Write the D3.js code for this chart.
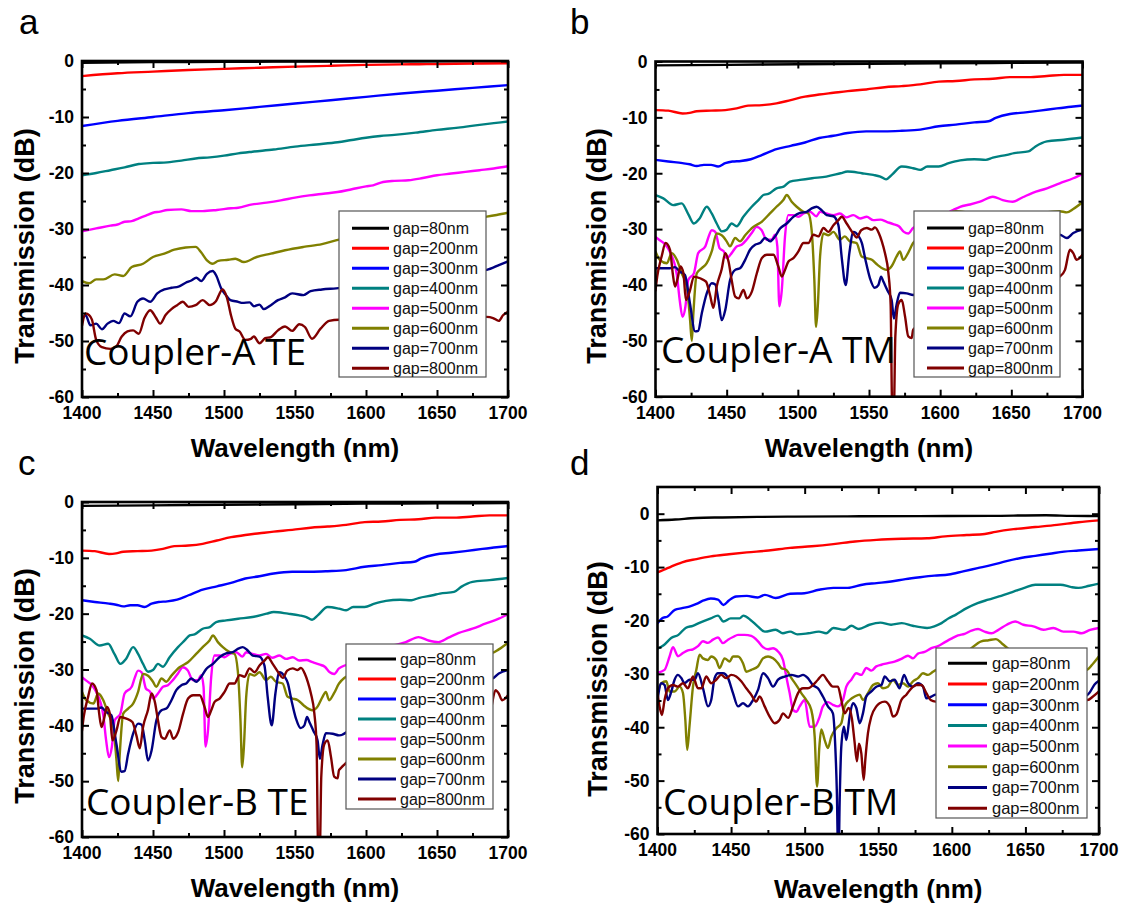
<!DOCTYPE html>
<html>
<head>
<meta charset="utf-8">
<script src="https://cdn.jsdelivr.net/npm/d3@7"></script>
<style>
  body { margin: 0; background: #fff; }
  svg { display: block; }
</style>
</head>
<body>
<svg id="fig" width="1125" height="909"></svg>
<script>
// ---- axis ticks and legend labels ----
const wavelengthMajor = [1400, 1450, 1500, 1550, 1600, 1650, 1700];
const wavelengthMinor = [1425, 1475, 1525, 1575, 1625, 1675];
const dbMajor = [0, -10, -20, -30, -40, -50, -60];
const dbMinor = [-5, -15, -25, -35, -45, -55];
const gapLabels = ["gap=80nm", "gap=200nm", "gap=300nm", "gap=400nm",
                   "gap=500nm", "gap=600nm", "gap=700nm", "gap=800nm"];
const gapColors = ["#000000", "#ff0000", "#0000ff", "#008080",
                   "#ff00ff", "#808000", "#000080", "#800000"];

// ---- Coupler-A TE : [wavelength nm, transmission dB] ----
const aGap80 = [[1400,-0.3],[1450,-0.2],[1500,-0.15],[1550,-0.1],[1600,-0.1],[1650,-0.05],[1700,0]];
const aGap200 = [[1400,-2.7],[1425,-2.2],[1450,-1.9],[1475,-1.6],[1500,-1.4],[1525,-1.2],[1550,-1.0],[1575,-0.85],[1600,-0.7],[1625,-0.6],[1650,-0.55],[1675,-0.45],[1700,-0.4]];
const aGap300 = [[1400,-11.6],[1425,-10.7],[1450,-10.0],[1475,-9.3],[1500,-8.8],[1525,-8.2],[1550,-7.6],[1575,-7.0],[1600,-6.4],[1625,-5.8],[1650,-5.3],[1675,-4.8],[1700,-4.3]];
const aGap400 = [[1400,-20.4],[1410,-20.0],[1420,-19.5],[1430,-19.0],[1440,-18.4],[1450,-18.2],[1460,-18.1],[1470,-17.8],[1480,-17.4],[1490,-17.2],[1500,-16.9],[1510,-16.5],[1520,-16.2],[1535,-15.8],[1550,-15.3],[1565,-14.9],[1580,-14.5],[1590,-14.1],[1600,-13.7],[1610,-13.4],[1620,-13.2],[1635,-12.8],[1650,-12.3],[1665,-11.9],[1680,-11.4],[1690,-11.1],[1700,-10.8]];
const aGap500 = [[1400,-30.4],[1410,-29.9],[1420,-29.4],[1425,-29.2],[1430,-28.7],[1435,-28.6],[1440,-28.1],[1445,-27.6],[1450,-27.1],[1455,-26.9],[1460,-26.6],[1470,-26.5],[1477,-26.8],[1485,-26.8],[1495,-26.6],[1505,-26.3],[1510,-26.2],[1520,-25.6],[1530,-25.3],[1540,-24.9],[1550,-24.4],[1560,-24.0],[1570,-23.7],[1580,-23.4],[1590,-22.9],[1600,-22.4],[1605,-22.2],[1612,-21.6],[1620,-21.4],[1630,-21.3],[1640,-20.9],[1650,-20.4],[1660,-20.1],[1670,-19.8],[1680,-19.5],[1690,-19.2],[1700,-18.8]];
const aGap600 = [[1400,-39.3],[1405,-39.7],[1410,-39.0],[1415,-39.0],[1423,-38.1],[1429,-38.4],[1435,-36.8],[1443,-36.2],[1450,-35.0],[1458,-34.4],[1465,-33.7],[1473,-33.3],[1480,-33.2],[1484,-34.2],[1488,-35.6],[1492,-36.2],[1496,-35.7],[1503,-35.5],[1508,-35.3],[1514,-35.9],[1523,-35.0],[1533,-34.4],[1543,-33.8],[1556,-33.2],[1569,-32.7],[1581,-31.9],[1600,-31.0],[1625,-30.0],[1650,-29.0],[1670,-28.3],[1685,-27.8],[1692,-27.5],[1700,-27.1]];
const aGap700 = [[1400,-46.2],[1402.5,-45.4],[1406,-47.2],[1410,-46.9],[1414,-47.9],[1418,-46.9],[1422,-46.4],[1426,-46.8],[1430,-45.1],[1434,-45.6],[1439,-43.0],[1443,-42.4],[1448,-43.0],[1453,-41.5],[1458,-40.8],[1463,-40.5],[1468,-40.3],[1473,-39.6],[1477,-39.2],[1480.5,-38.7],[1484,-39.3],[1488,-38.0],[1492,-37.5],[1494.5,-38.3],[1498,-40.6],[1501,-41.7],[1504.5,-42.7],[1510,-43.0],[1513,-43.2],[1518,-43.1],[1521,-43.8],[1525,-43.5],[1528,-44.3],[1533,-43.6],[1538,-42.7],[1543,-42.2],[1548,-41.5],[1556,-41.8],[1561,-41.1],[1569,-40.8],[1579,-40.6],[1600,-40.0],[1630,-39.0],[1660,-38.0],[1685,-37.3],[1694,-36.4],[1700,-35.8]];
const aGap800 = [[1400,-47.3],[1402.5,-45.1],[1405,-45.4],[1407,-46.2],[1410,-49.8],[1414,-51.1],[1420,-51.4],[1424,-51.0],[1428,-49.2],[1432,-48.3],[1436,-48.1],[1440,-48.7],[1444,-45.9],[1448,-44.5],[1452,-45.8],[1455,-46.9],[1459,-45.3],[1463,-44.3],[1467,-43.6],[1471,-43.0],[1475,-43.9],[1480,-43.6],[1485,-42.7],[1490,-43.6],[1494,-43.0],[1499,-40.8],[1502,-42.2],[1505,-45.5],[1508,-47.8],[1511,-48.3],[1515,-49.8],[1519,-49.6],[1521,-49.2],[1525,-50.4],[1529,-49.5],[1533,-49.3],[1538,-48.1],[1543,-47.4],[1548,-48.2],[1553,-47.0],[1557,-47.5],[1562,-49.6],[1568,-47.8],[1574,-46.4],[1581,-46.2],[1610,-46.2],[1640,-46.0],[1670,-45.8],[1685,-45.7],[1689.5,-45.9],[1693.5,-46.4],[1696.5,-45.4],[1700,-44.8]];

// ---- Coupler-A TM (also plotted for Coupler-B TE) ----
const bGap80 = [[1400,-0.7],[1450,-0.6],[1500,-0.5],[1550,-0.4],[1600,-0.3],[1650,-0.25],[1700,-0.2]];
const bGap200 = [[1400,-8.7],[1409,-8.8],[1419,-9.3],[1424,-9.2],[1429,-8.9],[1439,-8.8],[1449,-8.7],[1457,-8.4],[1465,-7.9],[1475,-7.8],[1485,-7.5],[1495,-6.9],[1505,-6.3],[1515,-5.9],[1525,-5.6],[1535,-5.3],[1548,-5.0],[1561,-4.6],[1573,-4.4],[1586,-4.1],[1599,-3.6],[1611,-3.5],[1624,-3.2],[1637,-3.1],[1649,-2.8],[1662,-2.8],[1675,-2.6],[1687,-2.4],[1700,-2.4]];
const bGap300 = [[1400,-17.6],[1409,-17.9],[1419,-18.2],[1424,-18.4],[1429,-18.7],[1434,-18.5],[1439,-18.5],[1444,-18.8],[1449,-18.2],[1454,-17.9],[1460,-17.8],[1467,-17.5],[1475,-16.7],[1485,-15.7],[1495,-15.1],[1505,-14.5],[1515,-13.7],[1525,-13.3],[1535,-12.8],[1548,-12.5],[1561,-12.5],[1573,-12.4],[1586,-12.2],[1599,-11.6],[1611,-11.3],[1624,-10.9],[1634,-10.7],[1639,-10.1],[1649,-9.4],[1660,-9.1],[1670,-8.8],[1682,-8.4],[1692,-8.1],[1700,-7.9]];
const bGap400 = [[1400,-23.9],[1405.5,-24.5],[1412.5,-25.7],[1418.4,-25.4],[1423,-27.3],[1427,-29.0],[1431,-28.1],[1436,-26.0],[1439.5,-27.2],[1443,-29.0],[1446.5,-30.4],[1450,-30.1],[1453.5,-29.0],[1457,-29.5],[1461.7,-27.8],[1467.6,-26.0],[1472.3,-24.8],[1475.8,-23.9],[1479.3,-23.7],[1485,-22.7],[1490,-22.4],[1494.5,-21.5],[1501.5,-21.2],[1510,-20.9],[1520,-20.6],[1530,-20.0],[1535,-19.7],[1545,-20.0],[1553,-20.3],[1558,-20.6],[1562,-21.1],[1566,-20.3],[1573,-18.8],[1581,-19.1],[1586,-19.4],[1591,-18.8],[1599,-18.8],[1606,-18.2],[1614,-17.7],[1624,-17.5],[1632,-17.6],[1637,-17.2],[1647,-16.7],[1652,-16.4],[1662,-16.1],[1667,-15.2],[1675,-14.3],[1687,-14.0],[1700,-13.6]];
const bGap500 = [[1400,-31.4],[1403,-32.0],[1407,-32.8],[1410,-34.0],[1415,-38.2],[1417,-42.7],[1419,-45.7],[1421,-43.9],[1423,-39.1],[1427,-37.9],[1430,-34.3],[1435,-33.1],[1437,-31.6],[1439.5,-30.2],[1442,-30.5],[1445,-33.4],[1448,-34.0],[1450,-35.2],[1453.5,-34.3],[1457,-33.1],[1460.5,-32.8],[1464,-31.9],[1467.6,-30.7],[1471,-29.6],[1474.6,-30.2],[1478,-31.9],[1481.6,-31.9],[1484,-31.0],[1485.6,-33.1],[1487,-43.8],[1488.7,-41.0],[1491,-31.3],[1493.3,-27.5],[1497,-27.5],[1500.4,-27.8],[1504,-27.2],[1508.6,-26.9],[1513,-27.7],[1515.6,-26.9],[1520,-27.2],[1525,-27.5],[1529.6,-27.2],[1534,-27.9],[1539,-27.5],[1543.7,-28.1],[1548.4,-27.8],[1553,-28.4],[1558,-28.3],[1562.4,-28.7],[1567,-29.1],[1571,-29.5],[1574.5,-30.5],[1577.6,-30.8],[1581,-29.8],[1595,-28.5],[1609,-26.6],[1614,-26.0],[1621,-25.6],[1628,-25.1],[1637,-24.2],[1644,-24.8],[1651,-25.1],[1658,-24.3],[1665,-23.5],[1675,-22.7],[1684,-21.8],[1693.5,-20.9],[1700,-20.1]];
const bGap600 = [[1400,-34.0],[1403,-35.5],[1408,-36.1],[1411.4,-34.3],[1415,-35.5],[1418.4,-37.9],[1422,-40.3],[1424.3,-46.3],[1425.5,-50.0],[1426.6,-45.1],[1429,-37.9],[1432.5,-37.0],[1436,-36.1],[1439.5,-34.0],[1443,-30.8],[1446.5,-31.1],[1450,-32.2],[1452.3,-33.1],[1456,-31.6],[1459.4,-32.2],[1463,-31.1],[1468.7,-29.6],[1474.6,-28.7],[1480.4,-27.2],[1485,-26.0],[1489.8,-24.8],[1492.2,-23.9],[1495.7,-25.1],[1499.2,-26.0],[1504,-26.9],[1507.4,-27.2],[1509.7,-30.2],[1511.6,-39.1],[1512.8,-47.5],[1514,-43.9],[1515.6,-35.0],[1518,-30.8],[1521.4,-31.1],[1525,-30.5],[1529.6,-31.9],[1533,-31.3],[1536.6,-32.2],[1541.3,-32.5],[1544.8,-34.9],[1548.3,-35.2],[1552,-35.5],[1556,-36.4],[1562.4,-37.3],[1566,-36.6],[1569.4,-34.9],[1571.7,-34.0],[1574,-35.5],[1577.6,-34.2],[1581,-32.5],[1595,-30.0],[1611,-26.8],[1630,-27.5],[1660,-27.5],[1684,-26.8],[1689,-27.0],[1693.5,-26.4],[1700,-25.2]];
const bGap700 = [[1400,-37.0],[1405.5,-37.0],[1410,-37.0],[1413.7,-36.8],[1417,-37.6],[1420.7,-38.2],[1424.2,-43.3],[1427.8,-48.3],[1430,-48.2],[1432.5,-45.1],[1436,-41.5],[1439.5,-39.7],[1442,-39.9],[1444.2,-42.7],[1446.5,-46.3],[1449,-44.5],[1452.4,-39.1],[1456,-37.3],[1459.4,-37.0],[1463,-35.5],[1466.4,-33.7],[1470,-32.8],[1473.4,-32.5],[1477,-31.6],[1480.5,-32.2],[1484,-31.3],[1487.5,-29.9],[1492.2,-29.0],[1496.8,-27.8],[1501.5,-27.1],[1506.2,-26.9],[1509.7,-26.3],[1513.2,-26.0],[1516.7,-26.6],[1520.3,-27.5],[1525,-27.7],[1528.5,-29.3],[1530.8,-35.0],[1533.6,-40.0],[1536.2,-34.3],[1539,-30.5],[1542.5,-31.2],[1545,-32.5],[1547.5,-35.5],[1550.7,-38.8],[1554,-40.5],[1556.6,-40.0],[1558.5,-38.5],[1560.1,-39.4],[1563,-41.0],[1565.9,-42.7],[1567.5,-46.0],[1569.4,-43.5],[1571.8,-41.4],[1576.5,-41.5],[1581,-41.8],[1600,-38.0],[1630,-34.0],[1660,-32.0],[1684,-31.0],[1689,-31.6],[1693.5,-30.7],[1700,-30.1]];
const bGap800 = [[1400,-41.0],[1401.2,-38.5],[1404.3,-34.9],[1407.1,-32.5],[1410.2,-33.7],[1412.1,-37.9],[1413.7,-40.3],[1415.3,-39.1],[1417.6,-36.7],[1419.6,-37.9],[1421.4,-42.7],[1424.2,-41.0],[1427,-38.5],[1431.3,-38.8],[1435.5,-39.4],[1438.3,-41.8],[1440.7,-44.1],[1443,-40.3],[1446.5,-37.2],[1449,-34.3],[1451.3,-35.8],[1453.5,-39.1],[1456,-42.1],[1458.3,-42.4],[1461.8,-40.9],[1464.2,-42.4],[1467.7,-41.2],[1471.2,-37.9],[1474.7,-35.2],[1478.2,-34.6],[1482.9,-34.6],[1486.3,-36.7],[1488.7,-38.5],[1491,-37.3],[1493.4,-35.8],[1496.9,-35.2],[1500.4,-34.0],[1504,-32.5],[1507.4,-32.5],[1511,-31.0],[1514.4,-31.3],[1518,-29.8],[1521.5,-30.5],[1525,-29.3],[1528.5,-28.4],[1530.9,-27.8],[1534.3,-29.0],[1539,-30.8],[1541.3,-31.5],[1544.5,-30.2],[1548.4,-29.8],[1551.9,-30.1],[1554.2,-29.7],[1557,-30.8],[1559,-32.2],[1561.2,-34.3],[1563.6,-37.8],[1565.2,-43.5],[1566.3,-62],[1567.5,-62],[1568.5,-49.2],[1570.6,-43.4],[1573,-42.7],[1575.3,-45.6],[1577.6,-49.2],[1580,-49.5],[1581,-48.0],[1600,-45.0],[1640,-42.0],[1670,-40.0],[1684,-38.5],[1687.7,-37.3],[1691.2,-33.7],[1693.5,-34.3],[1695.9,-35.5],[1700,-34.6]];

// ---- Coupler-B TM ----
const dGap80 = [[1400,-1.25],[1412,-1.1],[1426,-0.8],[1444,-0.7],[1468,-0.6],[1493,-0.55],[1529,-0.5],[1578,-0.45],[1627,-0.4],[1664,-0.3],[1681,-0.4],[1700,-0.45]];
const dGap200 = [[1400,-11.0],[1404.4,-10.5],[1409.3,-9.9],[1416.7,-9.1],[1426.5,-8.5],[1436.2,-8.0],[1448.5,-7.6],[1460.7,-7.25],[1475.4,-6.9],[1490,-6.4],[1504.8,-6.1],[1519.5,-5.7],[1534.2,-5.2],[1548.9,-4.9],[1566,-4.7],[1583.2,-4.6],[1595.4,-4.25],[1610.1,-4.0],[1622.4,-3.8],[1629.7,-3.4],[1642,-2.9],[1656.7,-2.5],[1671.4,-2.1],[1686,-1.6],[1700,-1.25]];
const dGap300 = [[1400,-20.5],[1403.2,-19.6],[1406.9,-19.25],[1411.8,-18.0],[1416.7,-17.7],[1421.6,-17.4],[1426.5,-16.9],[1431.3,-16.25],[1436.2,-15.9],[1441.1,-16.1],[1444.8,-17.1],[1448.5,-16.25],[1453.4,-15.5],[1460.7,-15.4],[1468.1,-15.7],[1473,-15.2],[1480.3,-15.8],[1490.1,-15.0],[1499.9,-14.9],[1509.7,-14.25],[1519.5,-13.9],[1529.3,-13.9],[1539.1,-13.3],[1548.9,-13.0],[1558.7,-12.7],[1568.5,-12.25],[1578.3,-11.9],[1588.1,-11.6],[1597.9,-11.4],[1607.7,-10.8],[1617.5,-10.2],[1627.3,-9.6],[1637.1,-8.9],[1646.9,-8.3],[1656.7,-7.9],[1666.5,-7.5],[1676.3,-7.1],[1686.1,-6.9],[1700,-6.6]];
const dGap400 = [[1400,-25.3],[1404.4,-24.6],[1409.3,-23.3],[1414.2,-22.7],[1419.1,-21.4],[1424,-21.0],[1428.9,-20.4],[1436.2,-19.6],[1441.1,-19.1],[1444.8,-20.2],[1449.7,-19.6],[1455.8,-19.6],[1458.3,-19.1],[1463.2,-19.9],[1468.1,-21.1],[1473,-22.1],[1480.3,-21.75],[1485.2,-22.4],[1490.1,-22.1],[1495,-22.6],[1502.4,-22.4],[1509.7,-22.1],[1514.6,-22.4],[1519.5,-21.4],[1526.9,-21.75],[1531.8,-21.0],[1536.7,-21.6],[1544,-20.8],[1551.4,-20.4],[1558.7,-20.8],[1566,-20.5],[1573.4,-21.0],[1583.2,-21.4],[1588.1,-21.1],[1593,-20.5],[1597.9,-19.6],[1602.8,-18.9],[1610.1,-17.7],[1617.5,-16.75],[1624.8,-16.1],[1632.1,-15.5],[1641.9,-14.6],[1649.3,-13.9],[1656.7,-13.3],[1666.5,-13.3],[1673.8,-13.3],[1681.2,-13.75],[1686.1,-13.9],[1693.4,-13.5],[1700,-13.1]];
const dGap500 = [[1400,-29.8],[1404.8,-29.25],[1408.2,-26.75],[1410.5,-25.0],[1413.9,-26.7],[1417.3,-26.1],[1420.7,-25.6],[1424.1,-25.4],[1427.5,-24.8],[1430.9,-23.9],[1434.3,-24.2],[1437.7,-23.6],[1441.1,-23.2],[1444.5,-24.25],[1447.9,-23.6],[1451.3,-23.1],[1454.7,-22.7],[1459.2,-22.7],[1463.7,-22.9],[1468.3,-23.9],[1471.7,-25.0],[1475.1,-25.4],[1478.5,-25.2],[1481.9,-25.8],[1485.3,-27.4],[1487.5,-30.5],[1489.8,-33.6],[1492.1,-36.75],[1494.3,-37.1],[1496.6,-36.1],[1500,-34.9],[1503.4,-39.9],[1506.8,-39.9],[1510.2,-38.0],[1512.4,-36.1],[1515.9,-35.3],[1519.2,-35.8],[1522.6,-36.1],[1526,-34.9],[1528.3,-32.4],[1531.7,-31.1],[1535.1,-29.9],[1538.5,-30.2],[1541.9,-28.9],[1545.3,-29.4],[1548.7,-28.6],[1552.1,-28.3],[1556.6,-28.0],[1561.1,-27.7],[1565.7,-27.2],[1570.2,-26.6],[1573.6,-27.1],[1577,-26.2],[1581.5,-25.9],[1586.1,-25.2],[1590.6,-24.8],[1595.1,-24.1],[1599.7,-23.4],[1604.2,-22.8],[1608.7,-22.5],[1613.3,-21.9],[1617.8,-21.6],[1622.3,-22.1],[1626.9,-22.4],[1631.4,-21.8],[1637.3,-20.8],[1643,-20.2],[1648.6,-20.8],[1655.4,-21.1],[1662.2,-21.75],[1669,-21.4],[1675.8,-22.1],[1682.6,-22.1],[1688.3,-22.4],[1694,-21.75],[1700,-21.4]];
const dGap600 = [[1400,-33.6],[1402.6,-31.75],[1406,-31.4],[1408.2,-33.3],[1411.6,-33.3],[1415,-32.4],[1417.3,-33.6],[1418.9,-38.6],[1420.2,-44.25],[1421.8,-39.6],[1424.1,-32.4],[1426.4,-29.25],[1428.6,-26.4],[1430.9,-27.1],[1434.3,-27.4],[1436.5,-26.75],[1439.9,-27.4],[1442.2,-28.9],[1445.6,-27.1],[1449,-27.7],[1451.3,-26.75],[1454.7,-26.75],[1458.1,-28.0],[1460.3,-29.6],[1463.7,-29.25],[1468.3,-28.6],[1471.7,-27.1],[1475.1,-26.75],[1478.5,-27.1],[1481.9,-28.0],[1484.1,-28.9],[1487.5,-29.25],[1491,-30.8],[1494.3,-32.1],[1497.7,-33.6],[1501.1,-34.9],[1504.5,-36.75],[1506.8,-41.75],[1508.4,-51.1],[1510,-43.6],[1511.3,-40.4],[1513.6,-42.4],[1515.8,-43.9],[1518.1,-41.75],[1521.5,-40.2],[1524.9,-39.25],[1527.2,-36.1],[1530.6,-34.9],[1534,-34.25],[1537.4,-33.9],[1539.6,-34.9],[1543,-33.6],[1546.4,-32.1],[1549.8,-31.75],[1553.2,-32.7],[1556.6,-32.4],[1560,-31.1],[1563.4,-32.1],[1566.8,-31.75],[1570.2,-32.4],[1573.6,-31.4],[1577,-30.8],[1580.4,-29.9],[1583.8,-30.2],[1587.2,-29.6],[1600,-28.0],[1612,-25.5],[1620,-23.9],[1625,-23.7],[1630,-23.5],[1634,-24.3],[1650,-28.0],[1670,-30.0],[1691.7,-29.25],[1696.2,-28.0],[1700,-26.7]];
const dGap700 = [[1400,-34.9],[1402.6,-31.75],[1404.8,-32.1],[1407.1,-34.9],[1409.4,-33.3],[1411.6,-31.1],[1413.9,-30.2],[1416.2,-30.8],[1418.4,-31.75],[1421.8,-31.1],[1425.2,-31.1],[1427.5,-29.9],[1430.9,-32.7],[1434.3,-36.1],[1436.5,-34.9],[1438.8,-30.8],[1441.1,-29.9],[1444.5,-29.9],[1447.9,-30.8],[1451.3,-33.6],[1454.7,-36.1],[1458.1,-35.5],[1461.5,-36.1],[1464.9,-34.9],[1468.3,-33.0],[1471.7,-29.9],[1475.1,-30.8],[1478.5,-32.4],[1481.9,-31.1],[1486.4,-30.5],[1491,-30.2],[1495.5,-30.5],[1498.9,-30.2],[1502.2,-30.8],[1505.6,-32.1],[1509,-32.7],[1512.4,-34.25],[1515.8,-36.1],[1519.2,-37.4],[1520.8,-43.6],[1521.9,-52.4],[1522.6,-62],[1523.2,-62],[1523.8,-53.6],[1524.9,-43.6],[1526.7,-39.9],[1528.3,-42.4],[1530.6,-37.9],[1532.8,-35.5],[1535.1,-36.4],[1537.4,-39.25],[1539.6,-37.4],[1541.9,-34.25],[1545.3,-33.3],[1548.7,-32.4],[1552.1,-32.1],[1554.4,-30.5],[1557.8,-31.4],[1561.1,-31.1],[1564.5,-32.7],[1567.5,-30.2],[1570.2,-31.75],[1573.6,-32.4],[1577,-31.75],[1580.4,-32.4],[1582.7,-34.6],[1586.1,-34.25],[1589,-33.9],[1620,-33.5],[1660,-33.5],[1690,-34.3],[1693.4,-33.6],[1697,-32.0],[1700,-31.3]];
const dGap800 = [[1400,-33.6],[1401.4,-36.1],[1403,-37.7],[1404.8,-34.9],[1407.1,-32.7],[1410.5,-32.1],[1413.9,-32.4],[1417.3,-31.75],[1420.7,-32.7],[1424.1,-30.5],[1427.5,-32.7],[1429.8,-32.7],[1433.1,-30.5],[1436.5,-31.75],[1439.9,-31.1],[1443.3,-30.2],[1446.7,-30.8],[1450.1,-30.2],[1453.5,-30.5],[1456.9,-31.4],[1460.3,-32.7],[1463.7,-33.9],[1467.1,-35.2],[1469.4,-34.25],[1472.8,-36.1],[1476.2,-38.0],[1479.6,-39.25],[1483,-38.6],[1485.3,-37.4],[1488.7,-38.25],[1492.1,-36.1],[1495.5,-33.6],[1498.9,-32.7],[1502.2,-32.7],[1505.6,-32.1],[1509,-31.1],[1512.4,-30.2],[1515.8,-31.4],[1519.2,-32.4],[1522.6,-32.4],[1524.9,-34.9],[1527.2,-37.4],[1529.9,-36.4],[1532.1,-38.4],[1533.9,-42.75],[1535.5,-46.4],[1536.9,-43.1],[1538.5,-44.9],[1540.1,-49.9],[1541.2,-46.1],[1543,-41.1],[1545.3,-38.0],[1548.7,-36.1],[1550.9,-35.5],[1554.4,-35.2],[1557.8,-36.1],[1560,-38.0],[1562.3,-37.6],[1565.7,-34.9],[1569.1,-33.9],[1572.5,-32.7],[1575.9,-32.1],[1579.3,-32.1],[1582.7,-33.6],[1585.6,-34.9],[1589,-35.2],[1630,-34.5],[1670,-35.0],[1692.2,-34.9],[1695.9,-34.25],[1700,-33.3]];

// ---- panel layout ----
const panels = [
  { tag: "a", title: "Coupler-A TE", series: [aGap80, aGap200, aGap300, aGap400, aGap500, aGap600, aGap700, aGap800],
    l: 82, r: 508, t: 61, b: 397, yTop: 0,
    tagPos: [19, 34], titlePos: [84, 365], xTitleY: 457, yTitlePos: [34, 246],
    legend: { x: 339, y: 211, w: 147, h: 166, x0: 352, x1: 389, tx: 393, row0: 228.3, step: 20, fs: 16 } },
  { tag: "b", title: "Coupler-A TM", series: [bGap80, bGap200, bGap300, bGap400, bGap500, bGap600, bGap700, bGap800],
    l: 655.5, r: 1082.5, t: 61.5, b: 396.7, yTop: 0,
    tagPos: [570, 34], titlePos: [661, 363], xTitleY: 457, yTitlePos: [606, 246],
    legend: { x: 914, y: 211, w: 146, h: 166, x0: 927, x1: 964, tx: 968, row0: 228, step: 20, fs: 16 } },
  { tag: "c", title: "Coupler-B TE", series: [bGap80, bGap200, bGap300, bGap400, bGap500, bGap600, bGap700, bGap800],
    l: 82, r: 508, t: 502, b: 837, yTop: 0,
    tagPos: [18, 475], titlePos: [86, 815], xTitleY: 897, yTitlePos: [34, 686],
    legend: { x: 346, y: 644, w: 147, h: 165, x0: 358, x1: 396, tx: 400, row0: 659, step: 20, fs: 16 } },
  { tag: "d", title: "Coupler-B TM", series: [dGap80, dGap200, dGap300, dGap400, dGap500, dGap600, dGap700, dGap800],
    l: 657.5, r: 1099, t: 487, b: 834, yTop: 5,
    tagPos: [570, 475], titlePos: [663, 815], xTitleY: 898, yTitlePos: [607, 679],
    legend: { x: 936, y: 648, w: 151, h: 170, x0: 948, x1: 987, tx: 992, row0: 663.3, step: 20.7, fs: 16.5 } }
];

const svg = d3.select("#fig");
const tickFont = "'Liberation Sans', Arial, sans-serif";
const textFont = "'Open Sans', 'Noto Sans', sans-serif";

function drawPanel(p) {
  const g = svg.append("g").attr("class", "panel-" + p.tag);
  const x = d3.scaleLinear().domain([1400, 1700]).range([p.l, p.r]);
  const y = d3.scaleLinear().domain([-60, p.yTop]).range([p.b, p.t]);

  const clipId = "clip-" + p.tag;
  g.append("clipPath").attr("id", clipId)
    .append("rect").attr("x", p.l).attr("y", p.t)
    .attr("width", p.r - p.l).attr("height", p.b - p.t);

  // spectra
  const line = d3.line().x(d => x(d[0])).y(d => y(d[1])).curve(d3.curveMonotoneX);
  const lines = g.append("g").attr("clip-path", `url(#${clipId})`);
  p.series.forEach((s, i) => {
    lines.append("path").datum(s)
      .attr("d", line)
      .attr("fill", "none")
      .attr("stroke", gapColors[i])
      .attr("stroke-width", 2.4)
      .attr("stroke-linejoin", "round")
      .attr("stroke-linecap", "round");
  });

  // inward ticks on all four sides
  const tickGroups = [
    [d3.axisBottom(x), `translate(0,${p.b})`, wavelengthMajor, wavelengthMinor],
    [d3.axisTop(x), `translate(0,${p.t})`, wavelengthMajor, wavelengthMinor],
    [d3.axisLeft(y), `translate(${p.l},0)`, dbMajor, dbMinor],
    [d3.axisRight(y), `translate(${p.r},0)`, dbMajor, dbMinor]
  ];
  tickGroups.forEach(([axis, tr, major, minor]) => {
    [[major, 7], [minor, 4]].forEach(([vals, len]) => {
      const ax = g.append("g").attr("transform", tr)
        .call(axis.tickValues(vals).tickSizeInner(-len).tickSizeOuter(0).tickFormat(""));
      ax.select(".domain").remove();
      ax.selectAll("line").attr("stroke", "#000").attr("stroke-width", 2);
    });
  });

  // frame
  g.append("rect").attr("x", p.l).attr("y", p.t)
    .attr("width", p.r - p.l).attr("height", p.b - p.t)
    .attr("fill", "none").attr("stroke", "#000").attr("stroke-width", 2.6);

  // tick labels
  g.append("g").selectAll("text").data(wavelengthMajor).join("text")
    .attr("x", d => x(d)).attr("y", p.b + 22)
    .attr("text-anchor", "middle")
    .attr("font-family", tickFont).attr("font-weight", "bold").attr("font-size", 17.5)
    .text(d => d);
  g.append("g").selectAll("text").data(dbMajor).join("text")
    .attr("x", p.l - 8).attr("y", d => y(d)).attr("dy", "0.36em")
    .attr("text-anchor", "end")
    .attr("font-family", tickFont).attr("font-weight", "bold").attr("font-size", 17.5)
    .text(d => d);

  // axis titles
  g.append("text").attr("x", (p.l + p.r) / 2).attr("y", p.xTitleY)
    .attr("text-anchor", "middle")
    .attr("font-family", tickFont).attr("font-weight", "bold").attr("font-size", 26)
    .text("Wavelength (nm)");
  g.append("text")
    .attr("transform", `translate(${p.yTitlePos[0]},${p.yTitlePos[1]}) rotate(-90)`)
    .attr("text-anchor", "middle")
    .attr("font-family", tickFont).attr("font-weight", "bold").attr("font-size", 27)
    .text("Transmission (dB)");

  // legend
  const L = p.legend;
  const lg = g.append("g");
  lg.append("rect").attr("x", L.x).attr("y", L.y).attr("width", L.w).attr("height", L.h)
    .attr("fill", "#fff").attr("stroke", "#555").attr("stroke-width", 1.2);
  gapLabels.forEach((lab, i) => {
    const ry = L.row0 + i * L.step;
    lg.append("line").attr("x1", L.x0).attr("x2", L.x1).attr("y1", ry).attr("y2", ry)
      .attr("stroke", gapColors[i]).attr("stroke-width", 3);
    lg.append("text").attr("x", L.tx).attr("y", ry).attr("dy", "0.36em")
      .attr("font-family", tickFont).attr("font-size", L.fs).attr("fill", "#111")
      .text(lab);
  });

  // device name inside the plot
  g.append("text").attr("x", p.titlePos[0]).attr("y", p.titlePos[1])
    .attr("font-family", textFont).attr("font-size", 37).attr("fill", "#000")
    .text(p.title);

  // panel letter
  svg.append("text").attr("x", p.tagPos[0]).attr("y", p.tagPos[1])
    .attr("font-family", tickFont).attr("font-size", 35).attr("fill", "#000")
    .text(p.tag);
}

panels.forEach(drawPanel);
</script>
</body>
</html>
